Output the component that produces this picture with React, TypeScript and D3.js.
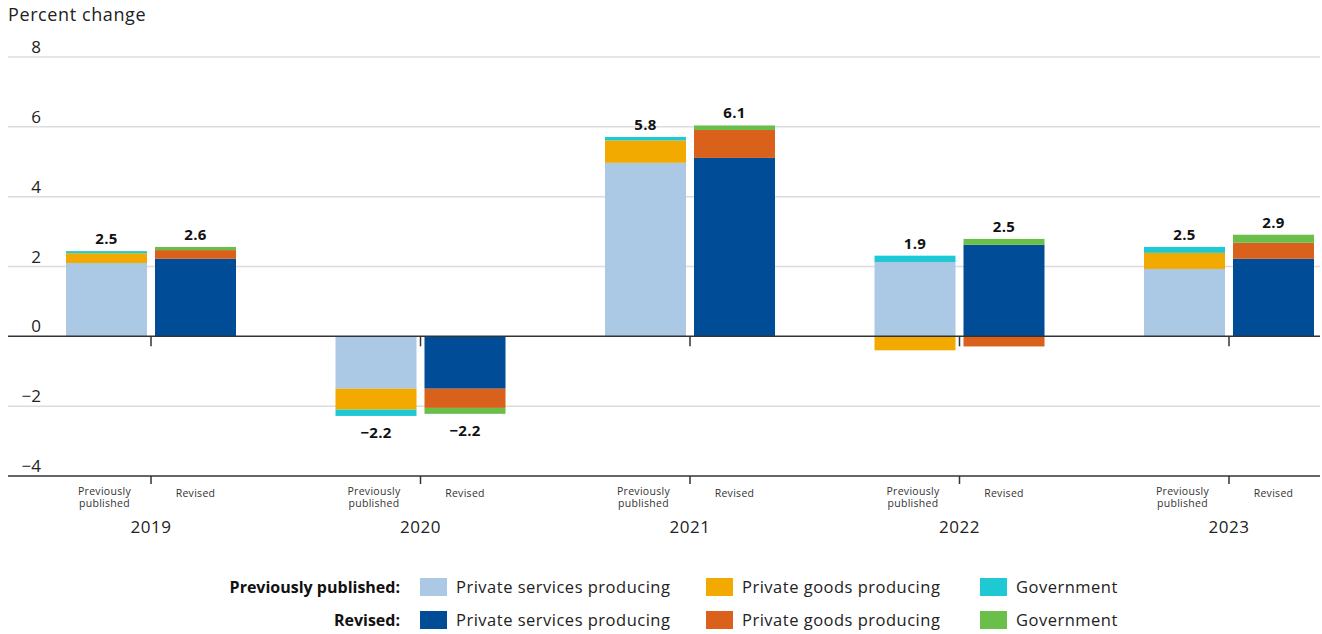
import React from "react";
import * as d3 from "d3";

const years = ["2019", "2020", "2021", "2022", "2023"];
const prevServices = [2.1, -1.5, 4.97, 2.13, 1.93];
const prevGoods = [0.28, -0.6, 0.64, -0.4, 0.46];
const prevGov = [0.06, -0.18, 0.1, 0.18, 0.17];
const revServices = [2.22, -1.5, 5.11, 2.62, 2.22];
const revGoods = [0.25, -0.55, 0.8, -0.29, 0.46];
const revGov = [0.09, -0.17, 0.13, 0.17, 0.23];
const prevTotals = [2.5, -2.2, 5.8, 1.9, 2.5];
const revTotals = [2.6, -2.2, 6.1, 2.5, 2.9];
const yTicks = [8, 6, 4, 2, 0, -2, -4];
const seriesKeys = ["services", "goods", "gov"];
const seriesNames = ["Private services producing", "Private goods producing", "Government"];
const prevColors = ["#abc8e5", "#f2a900", "#1fc9d4"];
const revColors = ["#004c97", "#da611b", "#6abf4b"];

const W = 1322;
const H = 634;
const FONT = "'Open Sans', sans-serif";

const fmt = (v: number) => (v < 0 ? "\u2212" + Math.abs(v).toFixed(1) : v.toFixed(1));

function buildStack(s: number[], g: number[], v: number[]) {
  const rows = years.map((y, i) => ({ year: y, services: s[i], goods: g[i], gov: v[i] }));
  return d3.stack<any>().keys(seriesKeys).offset(d3.stackOffsetDiverging)(rows);
}

export default function App() {
  const y = d3.scaleLinear().domain([-4, 8]).range([476, 57]);
  const x = d3.scalePoint<string>().domain(years).range([151, 1229]);
  const barW = 81;
  const gap = 4;

  const prevStack = buildStack(prevServices, prevGoods, prevGov);
  const revStack = buildStack(revServices, revGoods, revGov);

  const groups = [
    { stack: prevStack, colors: prevColors, totals: prevTotals, offset: -gap - barW, sub: ["Previously", "published"] },
    { stack: revStack, colors: revColors, totals: revTotals, offset: gap, sub: ["Revised"] },
  ];

  return (
    <svg width={W} height={H} style={{ position: "absolute", left: 0, top: 0, fontFamily: FONT }}>
      <rect width={W} height={H} fill="#fff" />
      <text x={8} y={21} fontSize={18} letterSpacing={0.6} fill="#222">Percent change</text>
      {yTicks.map((t) => (
        <g key={t}>
          {t !== 0 && t !== -4 && (
            <line x1={8} x2={1320} y1={y(t)} y2={y(t)} stroke="#dcdcdc" strokeWidth={1.5} />
          )}
          <text x={41} y={y(t) - 4} textAnchor="end" fontSize={17} fill="#222">
            {t < 0 ? "\u2212" + Math.abs(t) : t}
          </text>
        </g>
      ))}
      {groups.map((gr, gi) =>
        gr.stack.map((layer, li) =>
          layer.map((d, i) => (
            <rect
              key={`${gi}-${li}-${i}`}
              x={(x(years[i]) as number) + gr.offset}
              width={barW}
              y={y(Math.max(d[0], d[1]))}
              height={Math.abs(y(d[0]) - y(d[1]))}
              fill={gr.colors[li]}
            />
          ))
        )
      )}
      {groups.map((gr, gi) =>
        years.map((yr, i) => {
          const top = d3.max(gr.stack, (l) => Math.max(l[i][0], l[i][1])) as number;
          const bot = d3.min(gr.stack, (l) => Math.min(l[i][0], l[i][1])) as number;
          const v = gr.totals[i];
          const cx = (x(yr) as number) + gr.offset + barW / 2;
          return (
            <text
              key={`lab-${gi}-${i}`}
              x={cx}
              y={v >= 0 ? y(top) - 7 : y(bot) + 22}
              textAnchor="middle"
              fontSize={15}
              fontWeight="bold"
              letterSpacing={0.3}
              fill="#111"
            >
              {fmt(v)}
            </text>
          );
        })
      )}
      <line x1={8} x2={1320} y1={y(0)} y2={y(0)} stroke="#333" strokeWidth={1.5} />
      <line x1={8} x2={1320} y1={y(-4)} y2={y(-4)} stroke="#333" strokeWidth={1.5} />
      {years.map((yr) => (
        <g key={`tick-${yr}`}>
          <line x1={x(yr)} x2={x(yr)} y1={y(0)} y2={y(0) + 10} stroke="#333" strokeWidth={1.5} />
          <line x1={x(yr)} x2={x(yr)} y1={y(-4)} y2={y(-4) + 8} stroke="#333" strokeWidth={1.5} />
          <text x={x(yr)} y={533} textAnchor="middle" fontSize={17} letterSpacing={0.5} fill="#222">{yr}</text>
        </g>
      ))}
      {groups.map((gr, gi) =>
        years.map((yr, i) => {
          const cx = (x(yr) as number) + gr.offset + barW / 2 - (gi === 0 ? 2 : 0);
          return gr.sub.length === 2 ? (
            <text key={`sub-${gi}-${i}`} textAnchor="middle" fontSize={10.5} letterSpacing={0.3} fill="#333">
              <tspan x={cx} y={495}>{gr.sub[0]}</tspan>
              <tspan x={cx} y={507}>{gr.sub[1]}</tspan>
            </text>
          ) : (
            <text key={`sub-${gi}-${i}`} x={cx} y={497} textAnchor="middle" fontSize={10.5} letterSpacing={0.3} fill="#333">
              {gr.sub[0]}
            </text>
          );
        })
      )}
      {[
        { label: "Previously published:", colors: prevColors, yy: 587 },
        { label: "Revised:", colors: revColors, yy: 620 },
      ].map((row) => (
        <g key={row.label}>
          <text x={400} y={row.yy + 6} textAnchor="end" fontSize={16} fontWeight="bold" fill="#111">
            {row.label}
          </text>
          {seriesNames.map((n, k) => {
            const sx = [420, 706, 980][k];
            return (
              <g key={n}>
                <rect x={sx} y={row.yy - 9} width={27} height={18} fill={row.colors[k]} />
                <text x={sx + 36} y={row.yy + 6} fontSize={16.5} letterSpacing={0.5} fill="#222">{n}</text>
              </g>
            );
          })}
        </g>
      ))}
    </svg>
  );
}
